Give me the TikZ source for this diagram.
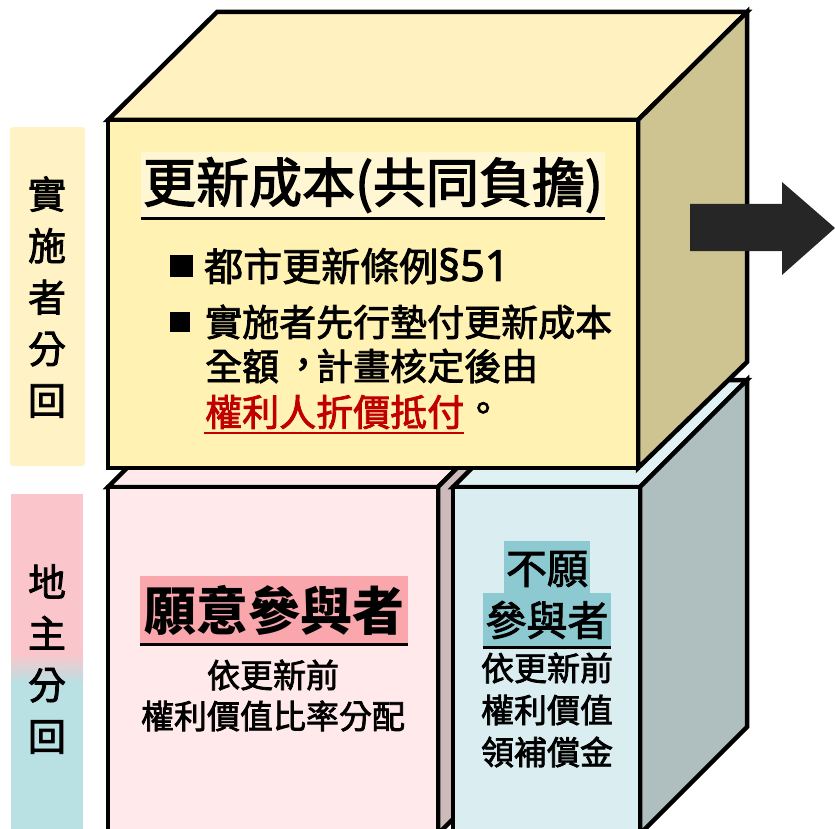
\documentclass[tikz,border=0pt]{standalone}
\usepackage{fontspec}
\setmainfont{Noto Sans CJK TC}[Script=CJK,Language=Chinese Traditional]
\newfontfamily\cjkmed{Noto Sans CJK TC}[Script=CJK,Language=Chinese Traditional,FakeBold=2.2]
\newfontfamily\cjkheavy{Noto Sans CJK TC}[Script=CJK,Language=Chinese Traditional,FakeBold=2.6]
\newfontfamily\latin{Noto Sans}[FakeBold=2.2]
\usepackage{tikz}
\usetikzlibrary{positioning}
\newcommand\midcomma{\makebox[1em][l]{\hspace{0.15em}\raisebox{0.06em}{\makebox[0pt][l]{，}}}}

\definecolor{capfront}{HTML}{FFF2B3}
\definecolor{captop}{HTML}{FFF2C0}
\definecolor{capside}{HTML}{CDC492}
\definecolor{capbg}{HTML}{FFF6D3}
\definecolor{pinkfront}{HTML}{FFE9EB}
\definecolor{pinkside}{HTML}{CDBBBC}
\definecolor{bluefront}{HTML}{DAEDF0}
\definecolor{bluetop}{HTML}{E0F1F3}
\definecolor{blueside}{HTML}{AFBFBF}
\definecolor{sideyellow}{HTML}{FFF2C4}
\definecolor{sidepink}{HTML}{FAC6CB}
\definecolor{sideblue}{HTML}{B9E0E3}
\definecolor{pinkmark}{HTML}{F9A7AC}
\definecolor{bluemark}{HTML}{8DC9D1}
\definecolor{darkred}{HTML}{C00000}
\definecolor{arrowgray}{HTML}{262626}

\begin{document}
\begin{tikzpicture}[x=1pt,y=-1pt,
    face/.style={draw=black,line width=4.5pt,line join=miter},
    big/.style={inner sep=0pt,font=\cjkheavy\fontsize{53}{60}\selectfont},
    mid/.style={inner sep=0pt,font=\cjkmed\fontsize{41}{48}\selectfont},
    small/.style={inner sep=0pt,font=\cjkmed\fontsize{33}{40}\selectfont},
    bullet/.style={inner sep=0pt,anchor=west,font=\cjkmed\fontsize{37}{44}\selectfont},
    side/.style={align=center,inner sep=0pt,font=\cjkmed\fontsize{38}{51.5}\selectfont},
    uline/.style={line width=3pt}]
\useasboundingbox (0,0) rectangle (835,829);
\clip (0,0) rectangle (835,829);

% Side labels.
\fill[sideyellow,rounded corners=3pt] (10,127) rectangle (85,466);
\fill[sidepink] (11,494) rectangle (83,655);
\shade[top color=sidepink,bottom color=sideblue] (11,654) rectangle (83,683);
\fill[sideblue] (11,682) rectangle (83,829);
\node[side] (exec) at (47,297) {實\\施\\者\\分\\回};
\node[side] (owner) at (47,659) {地\\主\\分\\回};

% Pink box.
\coordinate (p1) at (108,487);
\coordinate (p2) at (438,487);
\coordinate (p3) at (438,834);
\coordinate (p4) at (108,834);
\draw[face,fill=pinkfront] (p1) -- (215,380) -- (545,380) -- (p2) -- cycle;
\draw[face,fill=pinkside] (p2) -- (545,380) -- (545,727) -- (p3) -- cycle;
\draw[face,fill=pinkfront] (p1) -- (p2) -- (p3) -- (p4) -- cycle;

% Blue box.
\coordinate (b1) at (453,487);
\coordinate (b2) at (640,487);
\coordinate (b3) at (640,834);
\coordinate (b4) at (453,834);
\draw[face,fill=bluetop] (b1) -- (560,380) -- (747,380) -- (b2) -- cycle;
\draw[face,fill=blueside] (b2) -- (747,380) -- (747,727) -- (b3) -- cycle;
\draw[face,fill=bluefront] (b1) -- (b2) -- (b3) -- (b4) -- cycle;

% Yellow box.
\coordinate (y1) at (108,120);
\coordinate (y2) at (638,120);
\coordinate (y3) at (638,468);
\coordinate (y4) at (108,468);
\draw[face,fill=captop] (y1) -- (217,12) -- (747,12) -- (y2) -- cycle;
\draw[face,fill=capside] (y2) -- (747,12) -- (747,362) -- (y3) -- cycle;
\draw[face,fill=capfront] (y1) -- (y2) -- (y3) -- (y4) -- cycle;

% Arrow.
\fill[arrowgray] (690,204) -- (782,204) -- (782,182) -- (835,228) -- (782,275) -- (782,251) -- (690,251) -- cycle;

% Cost text.
\node[big,fill=capbg,minimum width=464pt,minimum height=66pt] (cost) at (373,185) {更新成本(共同負擔)};
\draw[uline] (cost.south west) -- (cost.south east);
\node[bullet,font=\cjkmed\fontsize{39}{46}\selectfont] (law) at (170,266) {\rule[4pt]{23pt}{22pt}\hspace{11pt}都市更新條例{\latin\fontsize{43}{46}\selectfont §51}};
\node[bullet] (pay1) at (170,322) {\rule[4pt]{20pt}{20pt}\hspace{15pt}實施者先行墊付更新成本};
\node[bullet] (pay2) at (205,366) {全額\midcomma 計畫核定後由};
\node[bullet,text=darkred] (pay3) at (205,412) {權利人折價抵付};
\node[bullet,right=0pt of pay3] (stop) {。};
\draw[darkred,line width=2.5pt] (204,433) -- (pay3.east |- 0,433);

% Willing owners.
\node[big,font=\bfseries\fontsize{52}{60}\selectfont,fill=pinkmark,minimum width=268pt,minimum height=69pt] (will) at (274,610) {願意參與者};
\draw[uline] (will.south west) -- (will.south east);
\node[small] (will1) at (273,675) {依更新前};
\node[small] (will2) at (273,716) {權利價值比率分配};

% Unwilling owners.
\node[mid,fill=bluemark,minimum width=86pt,minimum height=56pt] (nowill1) at (547,569) {不願};
\draw[uline] (nowill1.south west) -- (nowill1.south east);
\node[mid,fill=bluemark,minimum width=128pt,minimum height=55pt] (nowill2) at (547,620) {參與者};
\draw[uline] (nowill2.south west) -- (nowill2.south east);
\node[small] (comp1) at (547,668) {依更新前};
\node[small] (comp2) at (547,710) {權利價值};
\node[small] (comp3) at (547,752) {領補償金};
\end{tikzpicture}
\end{document}
